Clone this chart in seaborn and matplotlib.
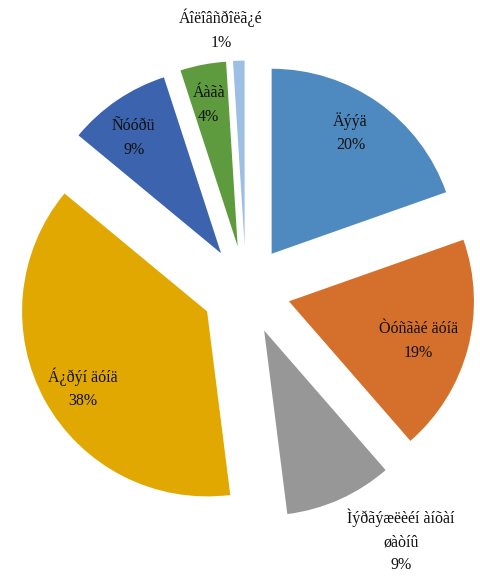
import numpy as np
import matplotlib
matplotlib.use('Agg')
import matplotlib.pyplot as plt
import seaborn as sns

# Data (labels kept exactly as shown in the reference)
categories = ['Äýýä', 'Òóñãàé äóíä', 'Ìýðãýæëèéí àíõàí\nøàòíû', 'Á¿ðýí äóíä',
              'Ñóóðü', 'Áàãà', 'Áîëîâñðîëã¿é']
shares = [19.6, 19.0, 9.4, 38.0, 9.0, 4.0, 1.0]

colors = ['#4E89BF', '#D4702C', '#979797', '#E0A800', '#3C63AE', '#5E9A3E', '#9DBFE3']

# label placement along each slice bisector (radial, tangential), in pie radii
label_r = [1.02, 0.97, 1.58, 1.03, 1.02, 1.02, 1.41]
label_t = [0.03, -0.03, 0.21, 0.04, 0.04, 0.01, 0.09]

sns.set_style('white')
plt.rcParams['font.family'] = ['Liberation Serif', 'DejaVu Serif']

fig = plt.figure(figsize=(4.81, 5.76), dpi=100)
ax = fig.add_axes([0, 0, 1, 1])

explode = [0.24] * len(shares)
wedges, _ = ax.pie(shares, colors=colors, startangle=90, counterclock=False,
                   explode=explode, radius=1.0,
                   wedgeprops={'linewidth': 0})

total = sum(shares)
for w, cat, val, r, t in zip(wedges, categories, shares, label_r, label_t):
    ang = np.deg2rad((w.theta1 + w.theta2) / 2)
    d = np.array([np.cos(ang), np.sin(ang)])
    p = np.array([-np.sin(ang), np.cos(ang)])
    x, y = r * d + t * p
    ax.text(x, y, f'{cat}\n{val / total * 100:.0f}%', ha='center', va='center',
            fontsize=11.5, linespacing=1.6, color='#111111')

# pie centre at (246, 290) px, radius 185 px
ax.set_xlim(-246 / 185, (481 - 246) / 185)
ax.set_ylim(-(576 - 290) / 185, 290 / 185)
ax.set_aspect('auto')
ax.axis('off')

fig.savefig('out.png', dpi=100, facecolor='white')
